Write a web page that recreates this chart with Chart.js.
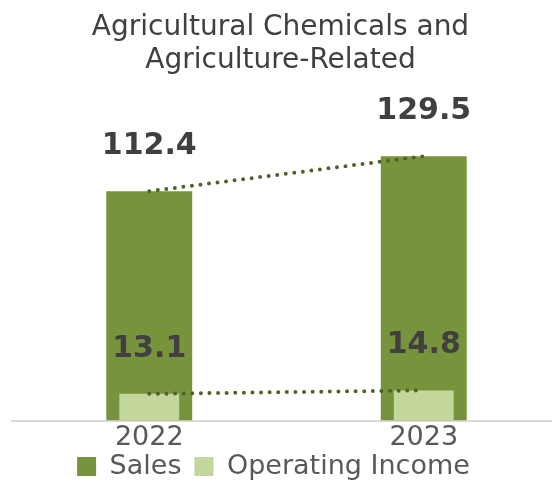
<!DOCTYPE html>
<html>
<head>
<meta charset="utf-8">
<script src="https://cdn.jsdelivr.net/npm/chart.js@4.4.1/dist/chart.umd.min.js"></script>
<style>
  html, body { margin: 0; padding: 0; overflow: hidden; background: #fff; }
  #wrap { width: 552px; height: 483px; overflow: hidden; }
</style>
</head>
<body>
<div id="wrap">
  <canvas id="chart" width="561" height="490"></canvas>
</div>
<script>
// --- data ---
const years = ["2022", "2023"];
const sales = [112.4, 129.5];
const operatingIncome = [13.1, 14.8];
const titleLines = ["Agricultural Chemicals and", "Agriculture-Related"];

const FONT = "'DejaVu Sans', Verdana, sans-serif";

// labels above the bars (no datalabels plugin available offline)
const barLabels = {
    id: "barLabels",
    afterDatasetsDraw(chart) {
        const ctx = chart.ctx;
        ctx.save();
        ctx.font = "bold 30px " + FONT;
        ctx.fillStyle = "#404040";
        ctx.textAlign = "center";
        ctx.textBaseline = "middle";
        chart.data.datasets.forEach((ds, i) => {
            if (ds.type === "line") return;
            const meta = chart.getDatasetMeta(i);
            meta.data.forEach((bar, j) => {
                ctx.fillText(ds.data[j].toFixed(1), bar.x, bar.y - 45);
            });
        });
        ctx.restore();
    }
};

// small layout tweaks: legend a bit to the left, year labels not clipped by the legend
const layoutTweaks = {
    id: "layoutTweaks",
    afterLayout(chart) {
        chart.legend.left -= 7;
        chart.legend.right -= 7;
        chart.scales.x.bottom += 20;
    }
};

const dotted = {
    type: "line",
    borderColor: "#4f6228",
    borderWidth: 4,
    borderDash: [0, 8.6],
    borderCapStyle: "round",
    pointRadius: 0,
    fill: false,
    order: 0
};

new Chart(document.getElementById("chart"), {
    type: "bar",
    data: {
        labels: years,
        datasets: [
            {
                label: "Sales",
                data: sales,
                backgroundColor: "#77933c",
                categoryPercentage: 1,
                barPercentage: 0.313,
                grouped: false,
                order: 2
            },
            {
                label: "Operating Income",
                data: operatingIncome,
                backgroundColor: "#c3d69b",
                categoryPercentage: 1,
                barPercentage: 0.218,
                grouped: false,
                order: 1
            },
            Object.assign({ label: "salesLine", data: sales }, dotted),
            Object.assign({ label: "oiLine", data: operatingIncome }, dotted)
        ]
    },
    options: {
        responsive: false,
        animation: false,
        layout: { padding: 0 },
        plugins: {
            title: {
                display: true,
                text: titleLines,
                color: "#404040",
                font: { family: FONT, size: 28, weight: "normal", lineHeight: 1.15 },
                padding: { top: 12, bottom: 38 }
            },
            legend: {
                position: "bottom",
                labels: {
                    filter: (item) => item.text === "Sales" || item.text === "Operating Income",
                    sort: (a, b) => a.datasetIndex - b.datasetIndex,
                    color: "#595959",
                    font: { family: FONT, size: 27 },
                    boxWidth: 19,
                    boxHeight: 19,
                    padding: 13
                }
            },
            tooltip: { enabled: false }
        },
        scales: {
            x: {
                grid: { display: false, drawTicks: true, tickLength: 15 },
                border: { display: true, color: "#d9d9d9", width: 2 },
                ticks: {
                    color: "#595959",
                    font: { family: FONT, size: 27, lineHeight: 0.1 },
                    padding: 0.85
                }
            },
            y: {
                min: 0,
                max: 150,
                grid: { display: false },
                border: { display: false },
                ticks: { display: false },
                afterFit(scale) { scale.width = 12; }
            }
        }
    },
    plugins: [barLabels, layoutTweaks]
});
</script>
</body>
</html>
